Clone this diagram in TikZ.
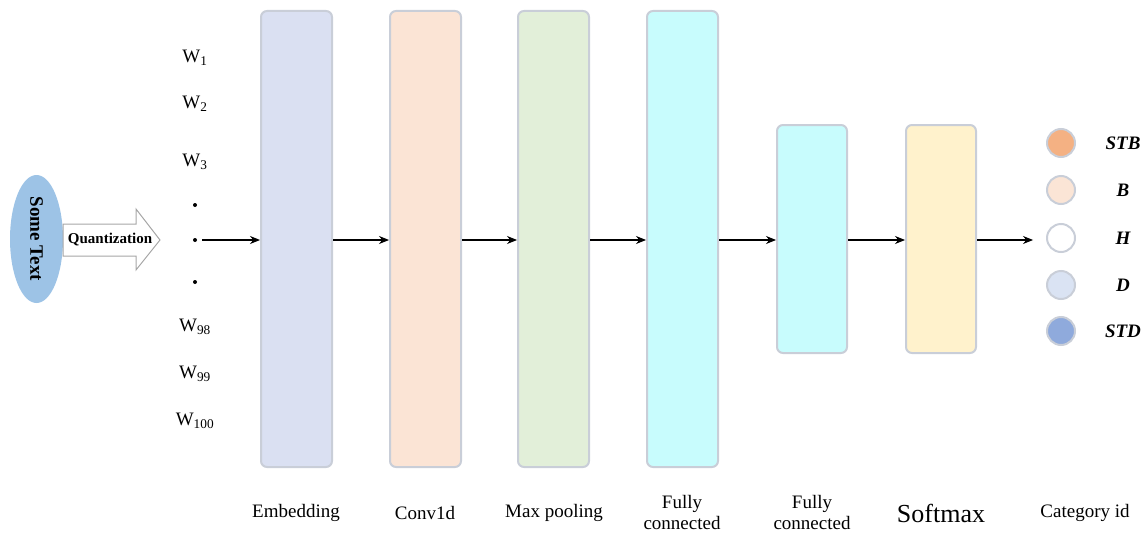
\documentclass[tikz,border=0pt]{standalone}
\usepackage{fontspec}
\setmainfont{Liberation Serif}
\usetikzlibrary{arrows.meta,shapes.geometric}
\definecolor{edgegray}{HTML}{C9CED8}
\definecolor{embfill}{HTML}{DAE0F2}
\definecolor{convfill}{HTML}{FBE4D5}
\definecolor{poolfill}{HTML}{E2EFD9}
\definecolor{fcfill}{HTML}{C8FCFD}
\definecolor{smfill}{HTML}{FFF2CC}
\definecolor{stbfill}{HTML}{F4B183}
\definecolor{bfill}{HTML}{FBE5D6}
\definecolor{dfill}{HTML}{DAE3F3}
\definecolor{stdfill}{HTML}{8FAADC}
\definecolor{textblue}{HTML}{9DC3E6}
\tikzset{
  layer/.style={draw=edgegray, line width=2pt, rounded corners=6pt, inner sep=0pt},
  conn/.style={-{Stealth[length=10pt,width=8pt]}, line width=1.1pt},
  cls/.style={circle, draw=edgegray, line width=2pt, minimum size=28pt, inner sep=0pt},
  clslabel/.style={font=\fontsize{19}{19}\selectfont\bfseries\itshape},
  wlabel/.style={font=\fontsize{19}{19}\selectfont, inner sep=0pt},
  caption/.style={font=\fontsize{19}{21}\selectfont, align=center, inner sep=0pt},
  dotnode/.style={circle, fill=black, minimum size=4pt, inner sep=0pt},
}
\begin{document}
\begin{tikzpicture}[x=1pt,y=-1pt]
\useasboundingbox (0,0) rectangle (1147,535);

% input text and quantization arrow
\node[ellipse, fill=textblue, minimum width=53pt, minimum height=128pt, inner sep=0pt] (txt) at (36.5,239) {};
\node[rotate=-90, font=\fontsize{19}{19}\selectfont\bfseries] at (txt.center) {Some Text};
\draw[draw=gray!70, line width=1pt, fill=white]
  (63,224) -- (136,224) -- (136,209) -- (160,240) -- (136,270) -- (136,256) -- (63,256) -- cycle;
\node[font=\fontsize{15}{15}\selectfont\bfseries, inner sep=0pt] (quant) at (110,240) {Quantization};

% word tokens
\node[wlabel] (w1) at (195,58) {W\textsubscript{1}};
\node[wlabel] (w2) at (195,104) {W\textsubscript{2}};
\node[wlabel] (w3) at (195,162) {W\textsubscript{3}};
\node[dotnode] (d1) at (195,205) {};
\node[dotnode] (d2) at (195,240) {};
\node[dotnode] (d3) at (195,282) {};
\node[wlabel] (w98) at (195,327) {W\textsubscript{98}};
\node[wlabel] (w99) at (195,374) {W\textsubscript{99}};
\node[wlabel] (w100) at (195,421) {W\textsubscript{100}};

% network layers
\node[layer, fill=embfill, minimum width=71pt, minimum height=456pt] (emb) at (296.5,239) {};
\node[layer, fill=convfill, minimum width=71pt, minimum height=456pt] (conv) at (425.5,239) {};
\node[layer, fill=poolfill, minimum width=71pt, minimum height=456pt] (pool) at (553.5,239) {};
\node[layer, fill=fcfill, minimum width=71pt, minimum height=456pt] (fca) at (682.5,239) {};
\node[layer, fill=fcfill, minimum width=70pt, minimum height=228pt] (fcb) at (812,239) {};
\node[layer, fill=smfill, minimum width=70pt, minimum height=228pt] (sm) at (941,239) {};

% output classes
\node[cls, fill=stbfill] (stb) at (1061,143) {};
\node[cls, fill=bfill] (b) at (1061,190) {};
\node[cls, fill=white] (h) at (1061,238) {};
\node[cls, fill=dfill] (d) at (1061,285) {};
\node[cls, fill=stdfill] (std) at (1061,331) {};
\node[clslabel] at (1123,143) {STB};
\node[clslabel] at (1123,190) {B};
\node[clslabel] at (1123,238) {H};
\node[clslabel] at (1123,285) {D};
\node[clslabel] at (1123,331) {STD};

% connectors
\coordinate (hin) at ([xshift=-13pt]h.west |- 0,240);
\draw[conn] ([xshift=5pt]d2.east) -- (d2.east -| emb.west);
\draw[conn] (emb.east |- 0,240) -- (conv.west |- 0,240);
\draw[conn] (conv.east |- 0,240) -- (pool.west |- 0,240);
\draw[conn] (pool.east |- 0,240) -- (fca.west |- 0,240);
\draw[conn] (fca.east |- 0,240) -- (fcb.west |- 0,240);
\draw[conn] (fcb.east |- 0,240) -- (sm.west |- 0,240);
\draw[conn] (sm.east |- 0,240) -- (hin);

% captions
\node[caption] at (296,513) {Embedding};
\node[caption] at (425,513) {Conv1d};
\node[caption] at (554,513) {Max pooling};
\node[caption] at (682,512) {Fully\\connected};
\node[caption] at (812,512) {Fully\\connected};
\node[caption, font=\fontsize{26}{26}\selectfont] at (941,513) {Softmax};
\node[caption] at (1085,513) {Category id};
\end{tikzpicture}
\end{document}
